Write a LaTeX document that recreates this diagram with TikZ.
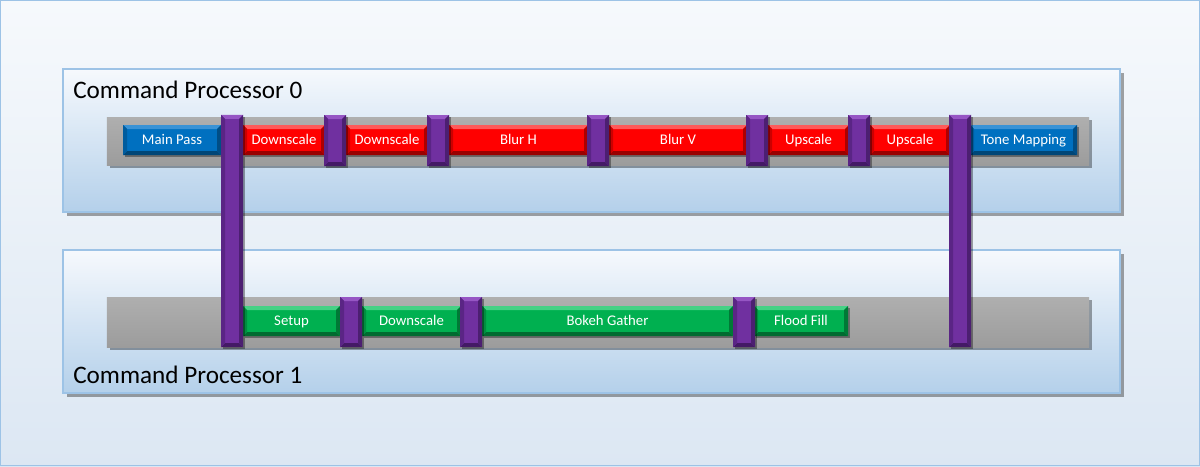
\documentclass[tikz,border=0pt]{standalone}
\usepackage{fontspec}
\setmainfont{Carlito}
\usetikzlibrary{shadows}
\definecolor{bgT}{HTML}{F6F9FC}
\definecolor{bgB}{HTML}{DCE7F3}
\definecolor{frame}{HTML}{9DC3E6}
\definecolor{panT}{HTML}{F6F9FD}
\definecolor{panB}{HTML}{B4D0EA}
\definecolor{grayT}{HTML}{AFAFAF}
\definecolor{grayB}{HTML}{9C9C9C}
\definecolor{bF}{HTML}{0070C0}\definecolor{bT}{HTML}{3A93D6}\definecolor{bS}{HTML}{005C9E}\definecolor{bB}{HTML}{004677}
\definecolor{rF}{HTML}{FF0000}\definecolor{rT}{HTML}{FF5A5A}\definecolor{rS}{HTML}{CC0000}\definecolor{rB}{HTML}{9A0000}
\definecolor{gF}{HTML}{00B050}\definecolor{gT}{HTML}{45D185}\definecolor{gS}{HTML}{008E40}\definecolor{gB}{HTML}{006B30}
\definecolor{pF}{HTML}{7030A0}\definecolor{pT}{HTML}{9656C4}\definecolor{pS}{HTML}{5A2585}\definecolor{pB}{HTML}{441A66}
\tikzset{
  bev/.style n args={4}{fill=#1, inner sep=0pt, text=white,
    font=\fontsize{10.5}{12}\selectfont, text height=6.8pt, text depth=0pt,
    drop shadow={shadow xshift=1.5pt, shadow yshift=-1.5pt, opacity=0.35, fill=black},
    path picture={
      \fill[#2] (path picture bounding box.north west) -- (path picture bounding box.north east)
        -- ([shift={(-4,4)}]path picture bounding box.north east) -- ([shift={(4,4)}]path picture bounding box.north west) -- cycle;
      \fill[#4] (path picture bounding box.south west) -- (path picture bounding box.south east)
        -- ([shift={(-4,-4)}]path picture bounding box.south east) -- ([shift={(4,-4)}]path picture bounding box.south west) -- cycle;
      \fill[#3] (path picture bounding box.north west) -- ([shift={(4,4)}]path picture bounding box.north west)
        -- ([shift={(4,-4)}]path picture bounding box.south west) -- (path picture bounding box.south west) -- cycle;
      \fill[#3!85!black] (path picture bounding box.north east) -- ([shift={(-4,4)}]path picture bounding box.north east)
        -- ([shift={(-4,-4)}]path picture bounding box.south east) -- (path picture bounding box.south east) -- cycle;
    }},
  bluebox/.style={bev={bF}{bT}{bS}{bB}},
  redbox/.style={bev={rF}{rT}{rS}{rB}},
  greenbox/.style={bev={gF}{gT}{gS}{gB}},
  pillar/.style={bev={pF}{pT}{pS}{pB}},
  panel/.style={top color=panT, bottom color=panB, draw=frame, line width=0.8pt, inner sep=0pt,
    drop shadow={shadow xshift=2.5pt, shadow yshift=-2.5pt, opacity=0.35, fill=black}},
  graybar/.style={top color=grayT, bottom color=grayB, inner sep=0pt,
    drop shadow={shadow xshift=2pt, shadow yshift=-2pt, opacity=0.35, fill=black}},
  title/.style={anchor=west, inner sep=0pt, font=\fontsize{17.9}{20}\selectfont, text=black}
}
\newcommand\bx[7]{%
  \pgfmathsetmacro\bxw{(#5-#3)*0.025}%
  \pgfmathsetmacro\bxh{(#6-#4)*0.025}%
  \node[#1, minimum width=\bxw cm, minimum height=\bxh cm] (#2) at ({(#3+#5)/2},{(#4+#6)/2}) {#7};}
\begin{document}
\begin{tikzpicture}[x=0.025cm,y=-0.025cm]
\useasboundingbox (0,0) rectangle (1200,466);
\fill[top color=bgT, bottom color=bgB] (0,0) rectangle (1200,466);
\draw[frame, line width=0.8pt] (0.5,0.5) rectangle (1199.5,465.5);

% panels
\bx{panel}{cp0}{63}{69}{1120}{212}{}
\bx{panel}{cp1}{63}{250}{1120}{393}{}
\node[title] (t0) at (73,90) {Command Processor 0};
\node[title] (t1) at (73,375) {Command Processor 1};

% gray bars
\bx{graybar}{bar0}{107}{117}{1089}{165}{}
\bx{graybar}{bar1}{107}{297}{1089}{347}{}

% top row
\bx{bluebox}{mainpass}{123}{125}{221}{155}{Main Pass}
\bx{redbox}{ds1}{243}{125}{325}{155}{Downscale}
\bx{redbox}{ds2}{346}{125}{428}{155}{Downscale}
\bx{redbox}{blurh}{449}{125}{588}{155}{Blur H}
\bx{redbox}{blurv}{609}{125}{747}{155}{Blur V}
\bx{redbox}{us1}{768}{125}{849}{155}{Upscale}
\bx{redbox}{us2}{870}{125}{950}{155}{Upscale}
\bx{bluebox}{tone}{970}{125}{1077}{155}{Tone Mapping}

% bottom row
\bx{greenbox}{setup}{243}{306}{340}{336}{Setup}
\bx{greenbox}{ds3}{362}{306}{461}{336}{Downscale}
\bx{greenbox}{bokeh}{482}{306}{733}{336}{Bokeh Gather}
\bx{greenbox}{flood}{754}{306}{848}{336}{Flood Fill}

% pillars
\bx{pillar}{pA}{221}{115}{243}{347}{}
\bx{pillar}{pB}{324}{115}{346}{166}{}
\bx{pillar}{pC}{427}{115}{449}{166}{}
\bx{pillar}{pD}{587}{115}{609}{166}{}
\bx{pillar}{pE}{746}{115}{768}{166}{}
\bx{pillar}{pF}{848}{115}{870}{166}{}
\bx{pillar}{pG}{949}{115}{971}{347}{}
\bx{pillar}{pH}{340}{297}{362}{347}{}
\bx{pillar}{pI}{460}{297}{482}{347}{}
\bx{pillar}{pJ}{733}{297}{755}{347}{}
\end{tikzpicture}
\end{document}
